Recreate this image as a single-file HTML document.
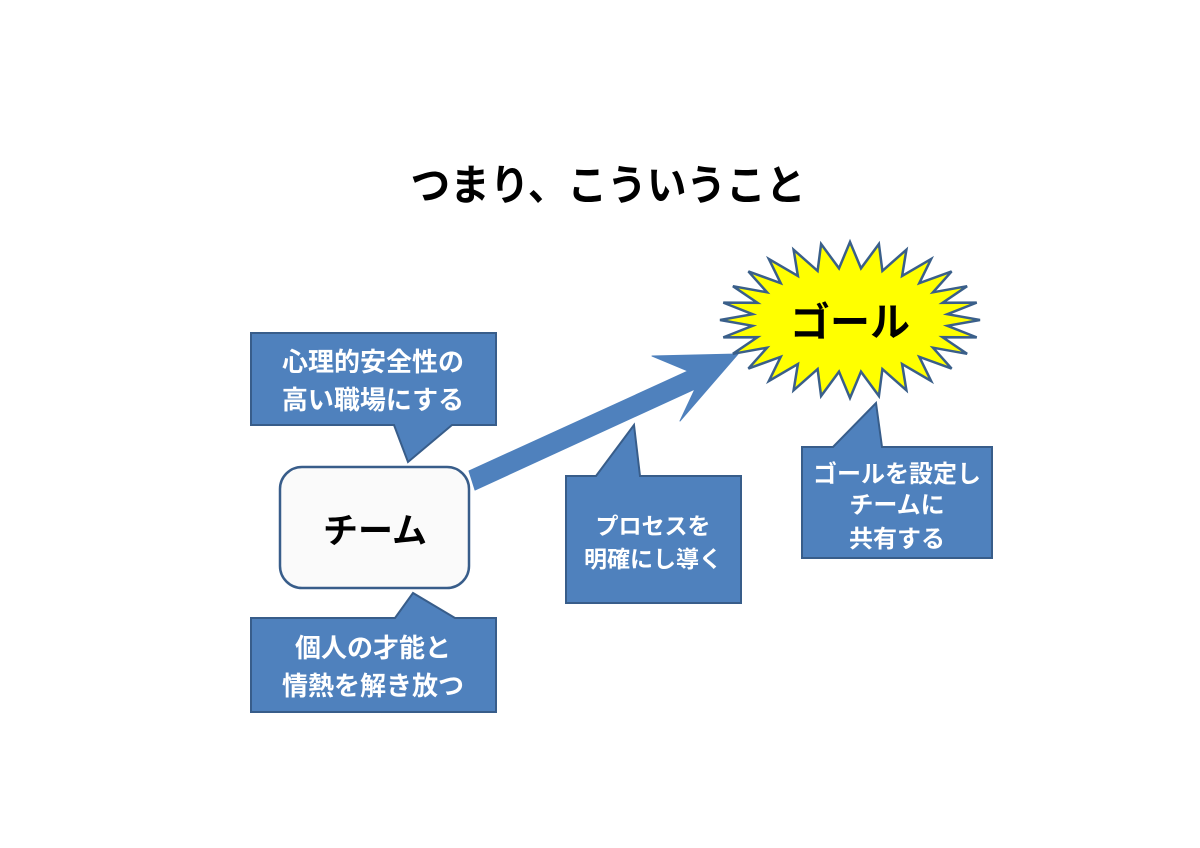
<!DOCTYPE html>
<html><head><meta charset="utf-8"><style>
html,body{margin:0;padding:0;background:#fff;}
svg{display:block;}
text{font-family:"Liberation Sans","Noto Sans CJK JP",sans-serif;font-weight:bold;}
</style></head><body>
<svg id="s" width="1200" height="848" viewBox="0 0 1200 848" xmlns="http://www.w3.org/2000/svg">
<text x="608" y="200" font-size="42" text-anchor="middle" textLength="395" lengthAdjust="spacingAndGlyphs" fill="#000">つまり、こういうこと</text>

<path d="M251,333 H496 V425 H452 L408,462 L394,425 H251 Z" fill="#4f81bd" stroke="#385d8a" stroke-width="2"/>
<text x="373" y="371" font-size="26" fill="#fff" text-anchor="middle">心理的安全性の</text>
<text x="373" y="409" font-size="26" fill="#fff" text-anchor="middle">高い職場にする</text>

<rect x="280" y="467" width="189" height="121" rx="22" fill="#fafafa" stroke="#385d8a" stroke-width="2.5"/>
<text x="375" y="543" font-size="35" fill="#000" text-anchor="middle">チーム</text>

<path d="M251,618 H395 L413,593 L455,618 H496 V712 H251 Z" fill="#4f81bd" stroke="#385d8a" stroke-width="2"/>
<text x="373" y="657" font-size="26" fill="#fff" text-anchor="middle">個人の才能と</text>
<text x="373" y="695" font-size="26" fill="#fff" text-anchor="middle">情熱を解き放つ</text>

<path d="M469,471 L688,371 L652,356 L738,354 L680,421 L695,389 L475,490 Z" fill="#4f81bd" stroke="#4f81bd" stroke-width="1" stroke-linejoin="round"/>

<path d="M566,476 H596 L634,425 L640,476 H741 V603 H566 Z" fill="#4f81bd" stroke="#385d8a" stroke-width="2"/>
<text x="653" y="534" font-size="23" fill="#fff" text-anchor="middle">プロセスを</text>
<text x="653" y="567" font-size="23" fill="#fff" text-anchor="middle">明確にし導く</text>

<polygon id="star" fill="#ffff00" stroke="#3a5f8a" stroke-width="2.5" stroke-linejoin="miter"/>
<text x="850" y="336" font-size="40" fill="#000" text-anchor="middle">ゴール</text>

<path d="M802,447 H833 L876,403 L882,447 H992 V558 H802 Z" fill="#4f81bd" stroke="#385d8a" stroke-width="2"/>
<text x="897" y="482" font-size="24" fill="#fff" text-anchor="middle">ゴールを設定し</text>
<text x="897" y="513" font-size="24" fill="#fff" text-anchor="middle">チームに</text>
<text x="897" y="547" font-size="24" fill="#fff" text-anchor="middle">共有する</text>
</svg>
<script>
(function(){
var cx=850,cy=320,n=28,ox=130,oy=78,ix=98,iy=52,pts=[];
for(var i=0;i<2*n;i++){
var a=Math.PI*i/n - Math.PI/2;
var rx=(i%2==0)?ox:ix, ry=(i%2==0)?oy:iy;
pts.push((cx+rx*Math.cos(a)).toFixed(1)+","+(cy+ry*Math.sin(a)).toFixed(1));
}
document.getElementById("star").setAttribute("points",pts.join(" "));
})();
</script>
</body></html>
